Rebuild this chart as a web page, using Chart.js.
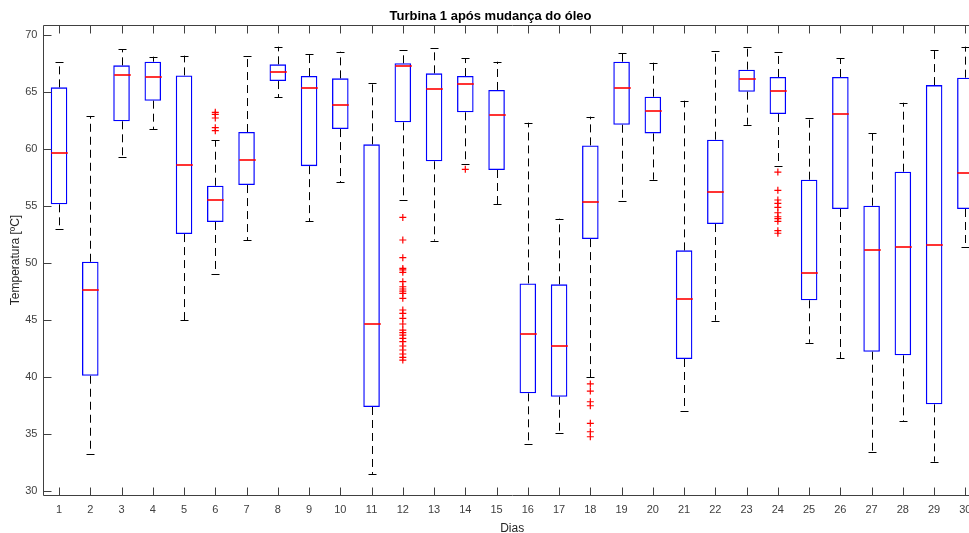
<!DOCTYPE html>
<html>
<head>
<meta charset="utf-8">
<script src="https://cdn.jsdelivr.net/npm/chart.js@4.4.1/dist/chart.umd.min.js"></script>
<style>
html,body{margin:0;padding:0;background:#fff;overflow:hidden;width:969px;height:533px;}
#wrap{position:absolute;left:0;top:0;width:990px;height:533px;}
</style>
</head>
<body>
<div id="wrap"><canvas id="c" width="990" height="533"></canvas></div>
<script>
const days = ['1','2','3','4','5','6','7','8','9','10','11','12','13','14','15','16','17','18','19','20','21','22','23','24','25','26','27','28','29','30'];
const whiskerLow = [52.95,33.27,59.27,61.75,45.0,49.06,52.02,64.53,53.68,57.08,31.5,55.53,51.96,58.71,55.18,34.1,35.06,39.97,55.44,57.31,36.99,44.94,62.13,58.51,43.0,41.67,33.42,36.14,32.57,51.38];
const q1 = [55.15,40.11,62.43,64.24,52.54,53.6,56.84,65.96,58.5,61.75,37.37,62.34,58.92,63.22,58.16,38.57,38.27,52.1,62.13,61.37,41.58,53.42,65.03,63.07,46.73,54.74,42.22,41.9,37.6,54.74];
const median = [59.62,47.66,66.46,66.32,58.62,55.53,59.0,66.75,65.32,63.83,44.65,67.25,65.24,65.7,62.98,43.77,42.69,55.38,65.32,63.33,46.81,56.2,66.11,65.12,49.15,63.07,51.17,51.4,51.55,57.92];
const q3 = [65.41,50.11,67.34,67.66,66.46,56.78,61.49,67.43,66.4,66.2,60.41,67.52,66.64,66.4,65.18,48.21,48.13,60.32,67.66,64.59,51.11,60.82,66.96,66.32,57.31,66.32,55.03,58.01,65.61,66.26];
const whiskerHigh = [67.6,62.9,68.74,68.1,68.19,60.79,68.16,68.98,68.3,68.54,65.76,68.68,68.89,67.95,67.66,62.31,53.89,62.84,68.39,67.57,64.24,68.57,68.98,68.51,62.75,67.95,61.4,64.06,68.66,68.98];
const outliers = {
  '6': [63.22,63.04,62.72,61.87,61.61],
  '12': [54.0,52.02,50.47,49.53,49.39,49.18,48.36,47.92,47.72,47.54,47.34,46.9,45.88,45.59,45.15,44.65,44.12,43.89,43.68,43.39,43.1,42.72,42.37,42.02,41.73,41.49],
  '14': [58.22],
  '18': [39.39,38.77,37.83,37.48,35.94,35.2,34.76],
  '24': [57.98,56.38,55.53,55.24,54.89,54.41,54.06,53.89,53.66,52.84,52.61]
};
const yTicks = [30,35,40,45,50,55,60,65,70];

const boxData = days.map((d,i)=>[q1[i],q3[i]]);
const outlierData = [];
Object.keys(outliers).forEach(k=>outliers[k].forEach(v=>outlierData.push({x:k,y:v})));

const AXIS = '#404040';
const boxPlugin = {
  id:'boxDecor',
  afterDatasetsDraw(chart){
    const ctx = chart.ctx, xs = chart.scales.x, ys = chart.scales.y, ca = chart.chartArea;
    const cap = 4;
    const meta = chart.getDatasetMeta(0);
    ctx.save();
    days.forEach((d,i)=>{
      const x = Math.round(xs.getPixelForValue(i)) + 0.5;
      ctx.strokeStyle = '#000'; ctx.lineWidth = 1;
      ctx.setLineDash([8,5]);
      ctx.beginPath();
      ctx.moveTo(x, ys.getPixelForValue(q3[i])); ctx.lineTo(x, ys.getPixelForValue(whiskerHigh[i]));
      ctx.moveTo(x, ys.getPixelForValue(q1[i])); ctx.lineTo(x, ys.getPixelForValue(whiskerLow[i]));
      ctx.stroke();
      ctx.setLineDash([]);
      ctx.beginPath();
      const yh = Math.round(ys.getPixelForValue(whiskerHigh[i]))+0.5;
      const yl = Math.round(ys.getPixelForValue(whiskerLow[i]))+0.5;
      ctx.moveTo(x-cap, yh); ctx.lineTo(x+cap, yh);
      ctx.moveTo(x-cap, yl); ctx.lineTo(x+cap, yl);
      ctx.stroke();
    });
    days.forEach((d,i)=>{
      const x = Math.round(xs.getPixelForValue(i)) + 0.5;
      const half = meta.data[i].width/2;
      ctx.strokeStyle = '#ff0000'; ctx.lineWidth = 1.6;
      const ym = Math.round(ys.getPixelForValue(median[i]));
      ctx.beginPath(); ctx.moveTo(x-half, ym); ctx.lineTo(x+half, ym); ctx.stroke();
    });
    ctx.strokeStyle = AXIS; ctx.lineWidth = 1;
    ctx.beginPath();
    const L = Math.round(ca.left)+0.5, T = Math.round(ca.top)+0.5, B = Math.round(ca.bottom)+0.5, R = Math.round(ca.right)+0.5;
    ctx.moveTo(L, B); ctx.lineTo(L, T); ctx.lineTo(R, T); ctx.lineTo(R, B); ctx.lineTo(L, B);
    days.forEach((d,i)=>{
      const x = Math.round(xs.getPixelForValue(i))+0.5;
      ctx.moveTo(x, B); ctx.lineTo(x, B-8);
      ctx.moveTo(x, T); ctx.lineTo(x, T+8);
    });
    yTicks.forEach(v=>{
      const y = Math.round(ys.getPixelForValue(v))+0.5;
      ctx.moveTo(L, y); ctx.lineTo(L+8, y);
      ctx.moveTo(R, y); ctx.lineTo(R-8, y);
    });
    ctx.stroke();
    ctx.restore();
  }
};

new Chart(document.getElementById('c'), {
  type:'bar',
  data:{
    labels: days,
    datasets:[
      {type:'bar', data: boxData, backgroundColor:'rgba(0,0,0,0)', borderColor:'#0000ff', borderWidth:1.3, borderSkipped:false, barPercentage:0.53, categoryPercentage:1, order:2},
      {type:'scatter', data: outlierData, pointStyle:'cross', radius:3.5, borderColor:'#ff0000', borderWidth:1.2, backgroundColor:'#ff0000', order:1}
    ]
  },
  options:{
    responsive:false,
    animation:false,
    layout:{padding:{left:0,right:9,top:0,bottom:0}},
    plugins:{
      legend:{display:false},
      tooltip:{enabled:false},
      title:{display:true, text:'Turbina 1 após mudança do óleo', color:'#000', font:{family:'Liberation Sans, Arial, sans-serif', size:13, weight:'bold'}, padding:{top:8.5,bottom:0.9}}
    },
    scales:{
      x:{
        type:'category', offset:true,
        grid:{display:false, drawTicks:false},
        border:{display:false},
        ticks:{color:'#404040', font:{family:'Liberation Sans, Arial, sans-serif', size:11}, padding:8, maxRotation:0, autoSkip:false},
        title:{display:true, text:'Dias', color:'#262626', font:{family:'Liberation Sans, Arial, sans-serif', size:12}, padding:{top:6,bottom:-2.5}},
        afterFit(s){ s.height = 38; }
      },
      y:{
        type:'linear', min:29.65, max:70.88,
        afterBuildTicks(s){ s.ticks = yTicks.map(v=>({value:v})); },
        grid:{display:false, drawTicks:false},
        border:{display:false},
        ticks:{color:'#404040', font:{family:'Liberation Sans, Arial, sans-serif', size:11}, padding:6},
        title:{display:true, text:'Temperatura [ºC]', color:'#262626', font:{family:'Liberation Sans, Arial, sans-serif', size:12}, padding:{top:8,bottom:0}},
        afterFit(s){ s.width = 43.4; }
      }
    }
  },
  plugins:[boxPlugin]
});
</script>
</body>
</html>
